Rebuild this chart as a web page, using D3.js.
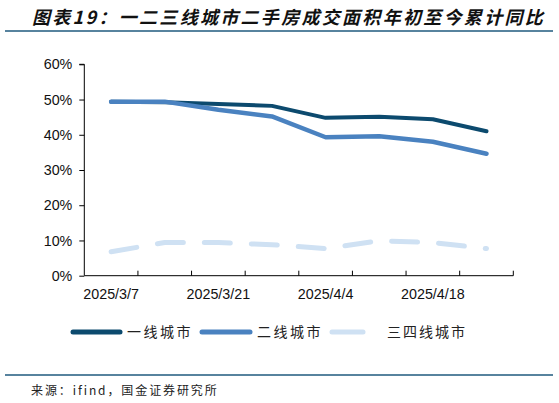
<!DOCTYPE html>
<html>
<head>
<meta charset="utf-8">
<script src="https://cdn.jsdelivr.net/npm/d3@7/dist/d3.min.js"></script>
<style>
  body { margin: 0; background: #fff; }
  svg text { font-family: "Liberation Sans", Arial, sans-serif; }
  .cjk { font-family: "Noto Sans CJK SC", sans-serif; }
</style>
</head>
<body>
<script>
var dates = ["2025/3/7", "2025/3/14", "2025/3/21", "2025/3/28", "2025/4/4", "2025/4/11", "2025/4/18", "2025/4/25"];
var tier1 = [49.4, 49.2, 48.7, 48.2, 44.8, 45.1, 44.4, 41.0];
var tier2 = [49.4, 49.4, 47.1, 45.2, 39.3, 39.6, 38.0, 34.6];
var tier34 = [6.8, 9.4, 9.4, 8.8, 7.7, 9.9, 9.4, 7.7];
var yTicks = [0, 10, 20, 30, 40, 50, 60];
var seriesNames = ["一线城市", "二线城市", "三四线城市"];

var w = 559, h = 403;
var svg = d3.select("body").append("svg")
    .attr("width", w)
    .attr("height", h);

/* title and rules */
svg.append("text")
    .attr("class", "cjk")
    .attr("x", 32).attr("y", 24)
    .style("font-size", "18px")
    .style("font-weight", "bold")
    .style("font-style", "italic")
    .style("letter-spacing", "2.3px")
    .attr("fill", "#111")
    .text("图表19：一二三线城市二手房成交面积年初至今累计同比");

svg.append("line")
    .attr("x1", 5).attr("x2", 553)
    .attr("y1", 31).attr("y2", 31)
    .attr("stroke", "#1f5a7e").attr("stroke-width", 1.5);

svg.append("line")
    .attr("x1", 5).attr("x2", 553)
    .attr("y1", 375).attr("y2", 375)
    .attr("stroke", "#1f5a7e").attr("stroke-width", 1.5);

svg.append("text")
    .attr("class", "cjk")
    .attr("x", 31).attr("y", 395)
    .style("font-size", "12px")
    .style("letter-spacing", "1.9px")
    .attr("fill", "#222")
    .text("来源：ifind，国金证券研究所");

/* scales */
var x0 = 84.3, x1 = 513.3, y0 = 275.7, y1 = 64.3;
var x = d3.scaleBand().domain(dates).range([x0, x1]);
var y = d3.scaleLinear().domain([0, 60]).range([y0, y1]);

var g = svg.append("g");

/* y axis */
var yAxis = d3.axisLeft(y)
    .tickValues(yTicks)
    .tickSize(5)
    .tickFormat(function(d) { return d + "%"; });
var ya = g.append("g").attr("transform", "translate(" + x0 + ",0)").call(yAxis);
ya.select(".domain").attr("stroke", "#000").attr("d", "M-5," + y1 + "H0V" + y0);
ya.selectAll(".tick line").attr("stroke", "#000").attr("x2", -5);
ya.selectAll(".tick text")
    .attr("x", -12)
    .style("font-size", "14.3px")
    .attr("fill", "#111");

/* x axis */
var bounds = dates.map(function(d) { return x(d); }).concat([x1]);
var xa = g.append("g").attr("transform", "translate(0," + y0 + ")");
xa.append("line")
    .attr("x1", x0).attr("x2", x1)
    .attr("stroke", "#000");
xa.selectAll(".xtick")
    .data(bounds.slice(1))
    .enter().append("line")
    .attr("x1", function(d) { return d; })
    .attr("x2", function(d) { return d; })
    .attr("y1", 0).attr("y2", -5)
    .attr("stroke", "#000");
xa.selectAll(".xlabel")
    .data(dates.filter(function(d, i) { return i % 2 === 0; }))
    .enter().append("text")
    .attr("x", function(d) { return x(d) + x.bandwidth() / 2; })
    .attr("y", 23.7)
    .attr("text-anchor", "middle")
    .style("font-size", "14.3px")
    .attr("fill", "#111")
    .text(function(d) { return d; });

/* lines */
var line = d3.line()
    .x(function(d, i) { return x(dates[i]) + x.bandwidth() / 2; })
    .y(function(d) { return y(d); });

var series = [
    { name: seriesNames[0], values: tier1, color: "#0c4a6e", width: 4, dash: null },
    { name: seriesNames[1], values: tier2, color: "#4a82c0", width: 4.5, dash: null },
    { name: seriesNames[2], values: tier34, color: "#cfe1f3", width: 5, dash: "26,21" }
];

series.forEach(function(s) {
    g.append("path")
        .datum(s.values)
        .attr("d", line)
        .attr("fill", "none")
        .attr("stroke", s.color)
        .attr("stroke-width", s.width)
        .attr("stroke-linecap", "round")
        .attr("stroke-linejoin", "round")
        .attr("stroke-dasharray", s.dash);
});

/* legend */
var legendItems = [
    { x1: 73, x2: 120, tx: 127 },
    { x1: 202, x2: 250, tx: 257 },
    { x1: 332, x2: 363, tx: 387 }
];
var lg = svg.append("g").attr("transform", "translate(0,332)");
legendItems.forEach(function(p, i) {
    lg.append("line")
        .attr("x1", p.x1).attr("x2", p.x2)
        .attr("stroke", series[i].color)
        .attr("stroke-width", 5)
        .attr("stroke-linecap", "round");
    lg.append("text")
        .attr("class", "cjk")
        .attr("x", p.tx).attr("y", 5)
        .style("font-size", "14px")
        .style("letter-spacing", i === 2 ? "2px" : "2.5px")
        .attr("fill", "#222")
        .text(seriesNames[i]);
});
</script>
</body>
</html>
